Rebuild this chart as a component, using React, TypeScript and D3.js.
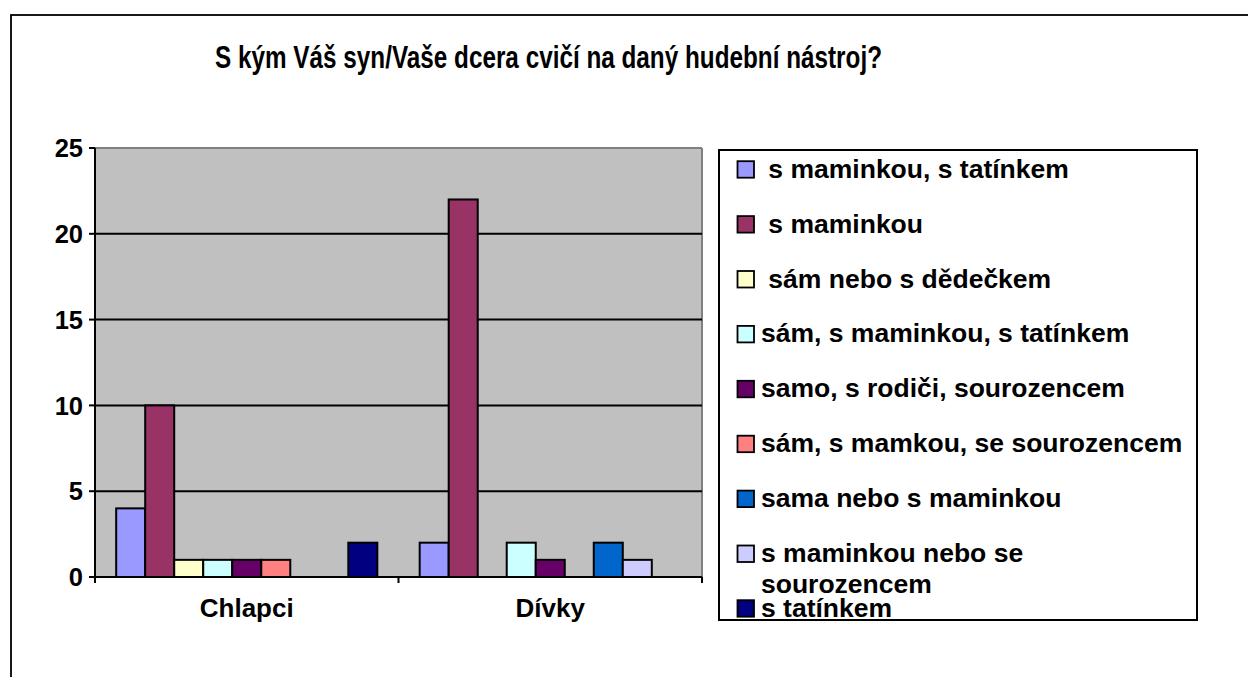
import React from "react";
import * as d3 from "d3";

const title = "S kým Váš syn/Vaše dcera cvičí na daný hudební nástroj?";
const categories = ["Chlapci", "Dívky"];
const seriesNames = [
  " s maminkou, s tatínkem",
  " s maminkou",
  " sám nebo s dědečkem",
  "sám, s maminkou, s tatínkem",
  "samo, s rodiči, sourozencem",
  "sám, s mamkou, se sourozencem",
  "sama nebo s maminkou",
  "s maminkou nebo se\nsourozencem",
  "s tatínkem",
];
const seriesColors = [
  "#9999FF",
  "#993366",
  "#FFFFCC",
  "#CCFFFF",
  "#660066",
  "#FF8080",
  "#0066CC",
  "#CCCCFF",
  "#000080",
];
const chlapciValues = [4, 10, 1, 1, 1, 1, 0, 0, 2];
const divkyValues = [2, 22, 0, 2, 1, 0, 2, 1, 0];
const yTicks = [0, 5, 10, 15, 20, 25];

const FONT = "'Liberation Sans', Arial, sans-serif";

export default function App() {
  const W = 1248;
  const H = 677;
  const plot = { left: 95, right: 702, top: 148, bottom: 577 };
  const y = d3.scaleLinear().domain([0, 25]).range([plot.bottom, plot.top]);
  const x0 = d3.scaleBand<string>().domain(categories).range([plot.left, plot.right]).padding(0);
  const x1 = d3
    .scaleBand<number>()
    .domain(d3.range(seriesNames.length))
    .range([0, x0.bandwidth()])
    .paddingInner(0)
    .paddingOuter(0.73);
  const values = [chlapciValues, divkyValues];

  const legend = { x: 719, y: 150, w: 478, h: 470 };
  const rowBase = 177.7;
  const rowStep = 54.9;
  const lineStep = 31;

  return (
    <svg
      width={W}
      height={H}
      style={{ position: "absolute", left: 0, top: 0, background: "#fff" }}
      fontFamily={FONT}
    >
      {/* outer chart border */}
      <rect x={11} y={15} width={1300} height={700} fill="#fff" stroke="#000" strokeWidth={1.8} />

      {/* title */}
      <text
        x={215}
        y={68}
        fontSize={31}
        fontWeight="bold"
        textLength={667}
        lengthAdjust="spacingAndGlyphs"
      >
        {title}
      </text>

      {/* plot area */}
      <rect
        x={plot.left}
        y={plot.top}
        width={plot.right - plot.left}
        height={plot.bottom - plot.top}
        fill="#C0C0C0"
      />
      <line x1={plot.left} x2={plot.right} y1={plot.top} y2={plot.top} stroke="#808080" strokeWidth={2} />
      <line x1={plot.right} x2={plot.right} y1={plot.top} y2={plot.bottom} stroke="#808080" strokeWidth={2} />

      {/* gridlines */}
      {yTicks
        .filter((t) => t > 0 && t < 25)
        .map((t) => (
          <line key={"g" + t} x1={plot.left} x2={plot.right} y1={y(t)} y2={y(t)} stroke="#000" strokeWidth={2} />
        ))}

      {/* bars */}
      {categories.map((c, ci) =>
        values[ci].map((v, si) =>
          v > 0 ? (
            <rect
              key={c + si}
              x={(x0(c) as number) + (x1(si) as number)}
              y={y(v)}
              width={x1.bandwidth()}
              height={y(0) - y(v)}
              fill={seriesColors[si]}
              stroke="#000"
              strokeWidth={2}
            />
          ) : null
        )
      )}

      {/* axes */}
      <line x1={plot.left} x2={plot.left} y1={plot.top} y2={plot.bottom + 6} stroke="#000" strokeWidth={2} />
      <line x1={plot.left} x2={plot.right} y1={plot.bottom} y2={plot.bottom} stroke="#000" strokeWidth={2} />
      {yTicks.map((t) => (
        <g key={"t" + t}>
          <line x1={plot.left - 6} x2={plot.left} y1={y(t)} y2={y(t)} stroke="#000" strokeWidth={2} />
          <text x={83} y={y(t)} dy="0.36em" textAnchor="end" fontSize={25.5} fontWeight="bold">
            {t}
          </text>
        </g>
      ))}
      {[...categories.map((c) => x0(c) as number), plot.right].map((xv, i) => (
        <line key={"ct" + i} x1={xv} x2={xv} y1={plot.bottom} y2={plot.bottom + 6} stroke="#000" strokeWidth={2} />
      ))}
      {categories.map((c) => (
        <text
          key={"cl" + c}
          x={(x0(c) as number) + x0.bandwidth() / 2}
          y={617}
          textAnchor="middle"
          fontSize={26}
          fontWeight="bold"
        >
          {c}
        </text>
      ))}

      {/* legend */}
      <rect x={legend.x} y={legend.y} width={legend.w} height={legend.h} fill="#fff" stroke="#000" strokeWidth={2} />
      {seriesNames.map((name, i) => {
        const base = i < 8 ? rowBase + i * rowStep : 616.7;
        const lines = name.split("\n");
        return (
          <g key={"l" + i}>
            <rect x={737.5} y={base - 16.5} width={16.5} height={16.5} fill={seriesColors[i]} stroke="#000" strokeWidth={1.8} />
            <text x={761} y={base} fontSize={26.5} fontWeight="bold" style={{ whiteSpace: "pre" }}>
              {lines.map((ln, li) => (
                <tspan key={li} x={761} y={base + li * lineStep}>
                  {ln}
                </tspan>
              ))}
            </text>
          </g>
        );
      })}
    </svg>
  );
}
